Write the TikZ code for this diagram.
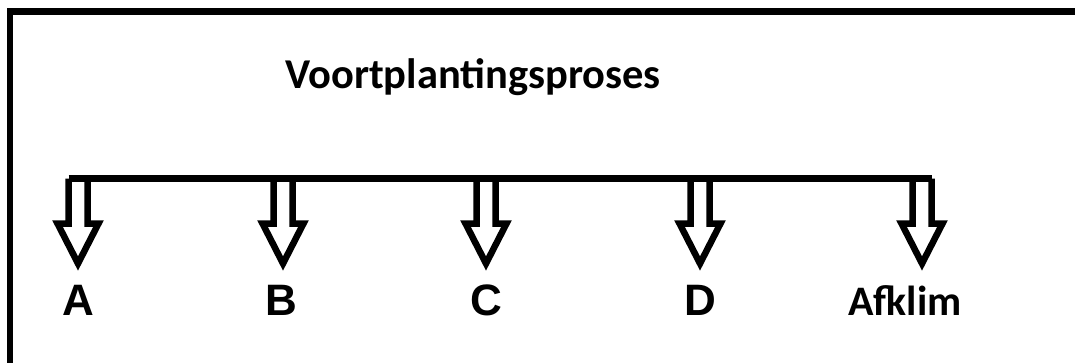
\documentclass[tikz,border=0pt]{standalone}
\usepackage{fontspec}
\setmainfont{Carlito}
\newfontfamily\lblfont{Liberation Sans}
\begin{document}
\begin{tikzpicture}[x=1pt,y=-1pt,
  frameline/.style={line width=6.5pt,line cap=butt,line join=miter},
  busline/.style={line width=7pt,line cap=square},
  arrowline/.style={line width=6.5pt,line join=miter,miter limit=10},
  title/.style={font=\fontsize{42.5}{42.5}\selectfont\bfseries,anchor=base,inner sep=0pt},
  lbl/.style={font=\lblfont\fontsize{44}{44}\selectfont\bfseries,anchor=base,inner sep=0pt},
  lblc/.style={font=\fontsize{42}{42}\selectfont\bfseries,anchor=base,inner sep=0pt},
  hollowarrow/.pic={\draw[arrowline] (-9.5,0) -- (-9.5,45) -- (-20.5,45) -- (0,85) -- (20.5,45) -- (9.5,45) -- (9.5,0);}]
\useasboundingbox (0,0) rectangle (1075,362);
\clip (0,0) rectangle (1075,362);
% frame (only top and left edges visible)
\draw[frameline] (10,375) -- (10,11.5) -- (1090,11.5);
% title
\node[title] (t) at (473,88) {Voortplantingsproses};
% arrow tops
\coordinate (pa) at (78,178.5);
\coordinate (pb) at (283,178.5);
\coordinate (pc) at (486,178.5);
\coordinate (pd) at (700,178.5);
\coordinate (pe) at (922,178.5);
% bus line
\draw[busline] ([xshift=-9.5pt]pa) -- ([xshift=9.5pt]pe);
% arrows
\foreach \p in {pa,pb,pc,pd,pe} \pic at (\p) {hollowarrow};
% labels
\node[lbl] (la) at (78,315) {A};
\node[lbl] (lb) at (281,315) {B};
\node[lbl] (lc) at (486,315) {C};
\node[lbl] (ld) at (700,315) {D};
\node[lblc] (le) at (905,315) {Afklim};
\end{tikzpicture}
\end{document}
